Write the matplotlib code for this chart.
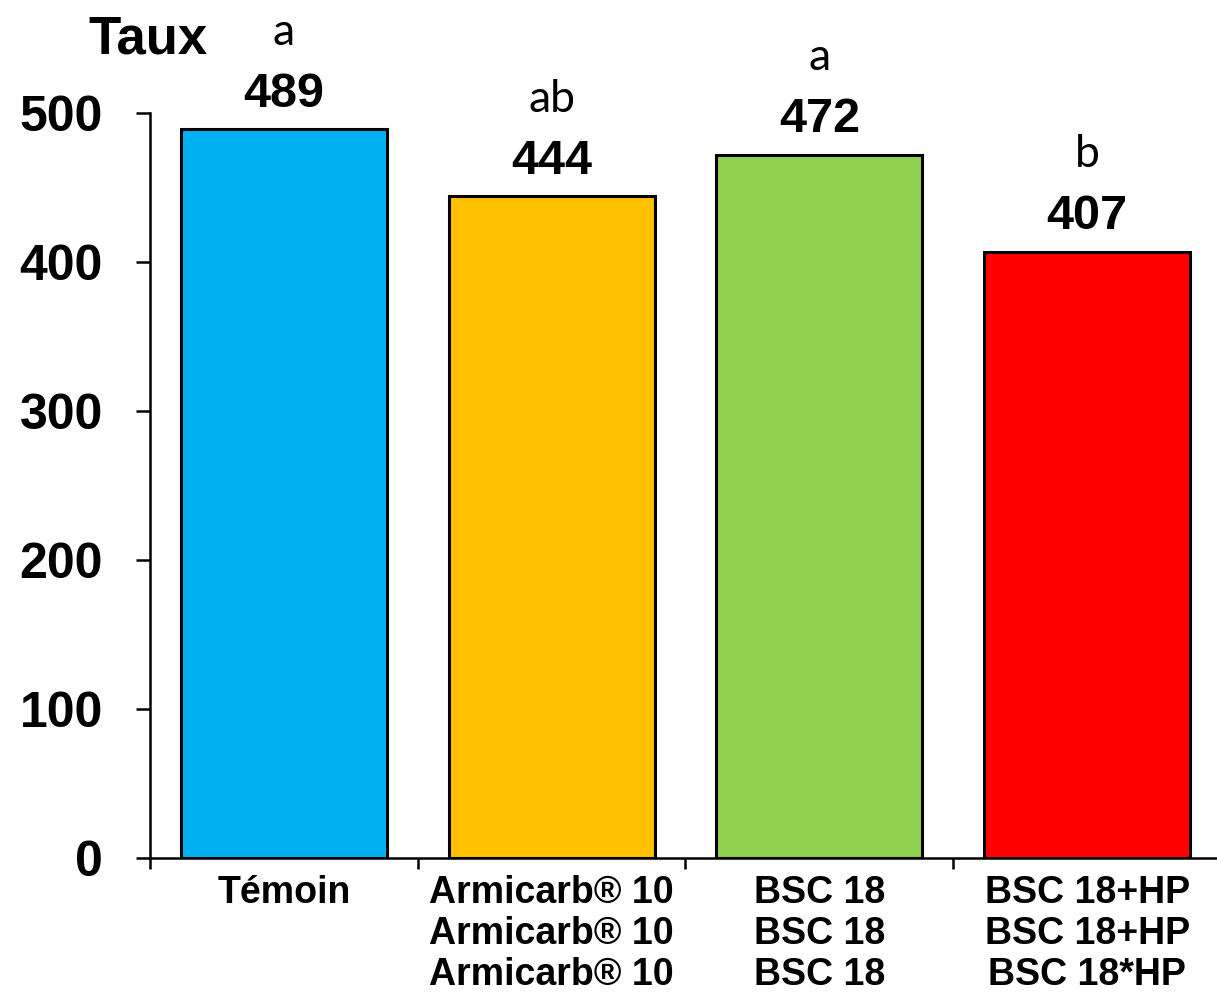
import matplotlib
matplotlib.use("Agg")
import matplotlib.pyplot as plt
import numpy as np

plt.rcParams['font.family'] = ['Liberation Sans', 'DejaVu Sans']

# data
categories = ["Témoin",
              "Armicarb® 10\nArmicarb® 10\nArmicarb® 10",
              "BSC 18\nBSC 18\nBSC 18",
              "BSC 18+HP\nBSC 18+HP\nBSC 18*HP"]
values = [489, 444, 472, 407]
letters = ["a", "ab", "a", "b"]
colors = ["#00B0F0", "#FFC000", "#92D050", "#FF0000"]
yticks = [0, 100, 200, 300, 400, 500]

W, H = 1217, 996
fig = plt.figure(figsize=(W / 100, H / 100), dpi=100)
# axes spans from x=150px to 1221px, y=858px (0) to 113px (500)
ax = fig.add_axes([150 / W, (H - 858) / H, 1071 / W, (858 - 113) / H])

x = np.arange(len(values))
ax.bar(x, values, width=0.77, color=colors, edgecolor="black", linewidth=2.2, zorder=2)

ax.set_xlim(-0.5, len(values) - 0.5)
ax.set_ylim(0, 500)

for i, v in enumerate(values):
    ax.annotate(str(v), (x[i], v), xytext=(0, 9), textcoords="offset points",
                ha="center", va="bottom", fontsize=35, fontweight="bold")
    ax.annotate(letters[i], (x[i], v), xytext=(0, 61), textcoords="offset points",
                ha="center", va="baseline", fontsize=32, family=["Lato", "DejaVu Sans"])

ax.spines["top"].set_visible(False)
ax.spines["right"].set_visible(False)
ax.spines["left"].set_linewidth(1.8)
ax.spines["bottom"].set_linewidth(1.8)

ax.set_yticks(yticks)
ax.set_yticklabels([str(t) for t in yticks], fontsize=36, fontweight="bold")
ax.tick_params(axis="y", direction="out", length=10, width=1.8, pad=24)

# category boundaries as major ticks, labels on minor ticks
ax.set_xticks(np.arange(len(values) + 1) - 0.5)
ax.set_xticklabels([])
ax.tick_params(axis="x", which="major", direction="out", length=8, width=1.8)
ax.set_xticks(x, minor=True)
ax.set_xticklabels(categories, minor=True, fontsize=27, fontweight="bold",
                   linespacing=1.18)
ax.tick_params(axis="x", which="minor", length=0, pad=12)

fig.text(88 / W, 1 - 53 / H, "Taux", fontsize=38, fontweight="bold",
         ha="left", va="baseline")

fig.savefig("out.png", dpi=100)
